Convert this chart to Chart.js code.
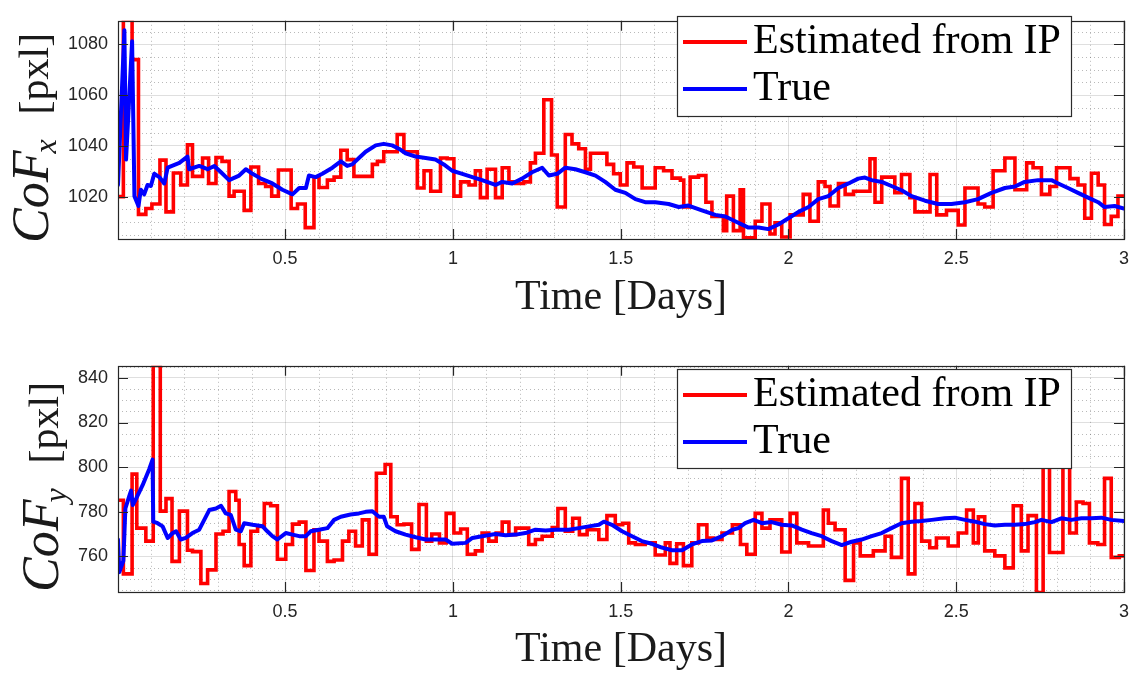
<!DOCTYPE html>
<html>
<head>
<meta charset="utf-8">
<title>CoF estimation</title>
<script src="https://cdn.jsdelivr.net/npm/chart.js@4.4.0/dist/chart.umd.min.js"></script>
<style>
  html, body { margin: 0; padding: 0; background: #ffffff; }
  #wrap { position: relative; width: 1138px; height: 677px; overflow: hidden; }
  .panel { position: absolute; left: 0; width: 1138px; }
  canvas { display: block; }
</style>
</head>
<body>
<div id="wrap">
  <div class="panel" style="top:0px;height:345px"><canvas id="cofx" width="1138" height="345"></canvas></div>
  <div class="panel" style="top:345px;height:332px"><canvas id="cofy" width="1138" height="332"></canvas></div>
</div>
<script>
// ---- axis ticks ----
const dayTicks = [0.5, 1, 1.5, 2, 2.5, 3];
const dayTickLabels = ['0.5', '1', '1.5', '2', '2.5', '3'];
const cofxTicks = [1020, 1040, 1060, 1080];
const cofyTicks = [760, 780, 800, 820, 840];
const seriesNames = ['Estimated from IP', 'True'];

// ---- CoF_x : image-processing estimate (held between updates) ----
const estXDays = [0.002,0.018,0.044,0.063,0.085,0.103,0.127,0.145,0.167,0.189,0.209,0.224,0.254,0.272,0.294,0.312,0.333,0.348,0.378,0.398,0.421,0.442,0.460,0.480,0.518,0.537,0.560,0.586,0.601,0.626,0.646,0.666,0.685,0.705,0.760,0.775,0.794,0.834,0.854,0.894,0.914,0.934,0.963,0.983,1.003,1.023,1.048,1.067,1.082,1.102,1.127,1.147,1.167,1.187,1.211,1.231,1.246,1.271,1.294,1.311,1.335,1.355,1.375,1.395,1.410,1.459,1.479,1.499,1.519,1.539,1.564,1.603,1.628,1.653,1.678,1.688,1.707,1.732,1.754,1.772,1.806,1.816,1.836,1.856,1.866,1.901,1.921,1.945,1.960,1.980,2.005,2.044,2.064,2.089,2.109,2.124,2.149,2.169,2.194,2.243,2.258,2.278,2.317,2.337,2.362,2.377,2.422,2.442,2.471,2.506,2.526,2.565,2.585,2.610,2.645,2.675,2.710,2.729,2.754,2.779,2.799,2.839,2.863,2.883,2.903,2.923,2.942,2.962,2.982,3.000];
const estXVals = [1020,1089.7,1074,1013,1015.3,1017.1,1034.4,1014,1029.3,1024.6,1040.4,1028,1035.2,1025.2,1035.4,1033.9,1020.2,1022.1,1014.6,1031.7,1025.2,1024,1020.2,1030.5,1015.3,1017.1,1007.8,1027.7,1023.6,1026.5,1027.7,1038.3,1034.6,1028,1032.7,1033.9,1037.7,1044.5,1037.7,1023.4,1030.2,1022.1,1035.2,1034.9,1020.2,1025.8,1024.6,1030.2,1019.6,1030.8,1019.6,1031.4,1025.8,1025.2,1025.8,1033.3,1037.1,1058.2,1036.4,1015.9,1044.5,1040.8,1038.9,1030.8,1037.1,1032.7,1029,1024.6,1033.3,1031.7,1023.4,1031.4,1030.2,1027.3,1026.5,1015.9,1027.7,1028.3,1017.8,1012.2,1006.6,1020.2,1006.6,1022.7,1003.8,1010.3,1017.1,1005.3,1009.7,1004.1,1012.8,1020.9,1010.3,1025.8,1024,1016.3,1025.2,1020.9,1022.1,1034.9,1017.8,1027.7,1021.5,1028.7,1019.6,1014,1028.7,1012.8,1014.6,1008.8,1023.4,1017.1,1015.9,1030.2,1035.2,1022.7,1033.3,1031.4,1020.9,1024,1031.4,1027.1,1024.6,1011.5,1029.2,1024.6,1009.0,1012.2,1020.2,1020.2];

// ---- CoF_x : ground truth ----
const trueXDays = [0.002,0.021,0.026,0.044,0.051,0.063,0.070,0.080,0.090,0.100,0.110,0.125,0.140,0.150,0.185,0.209,0.214,0.244,0.269,0.289,0.309,0.333,0.363,0.383,0.403,0.428,0.462,0.492,0.522,0.542,0.562,0.571,0.591,0.611,0.641,0.666,0.685,0.700,0.720,0.740,0.770,0.794,0.819,0.839,0.859,0.889,0.919,0.948,0.973,0.998,1.028,1.058,1.087,1.127,1.147,1.177,1.206,1.236,1.266,1.286,1.311,1.335,1.365,1.395,1.425,1.454,1.484,1.514,1.544,1.573,1.603,1.643,1.673,1.702,1.742,1.782,1.812,1.841,1.881,1.911,1.940,1.970,2.000,2.030,2.060,2.089,2.119,2.149,2.179,2.208,2.228,2.248,2.278,2.307,2.337,2.367,2.407,2.446,2.486,2.526,2.565,2.605,2.645,2.675,2.704,2.744,2.784,2.804,2.833,2.863,2.893,2.923,2.942,2.972,3.000];
const trueXVals = [1024.6,1085.6,1034.6,1081.2,1020.2,1016.3,1022.7,1020.9,1024.6,1024.2,1029.0,1027.7,1025.2,1031.4,1033.3,1035.8,1030.8,1032.1,1030.8,1032.1,1029.6,1026.5,1028.3,1030.8,1029.0,1027.1,1025.2,1022.7,1020.9,1023.4,1023.4,1028.3,1027.7,1029.0,1031.4,1033.9,1032.1,1032.7,1035.2,1037.7,1040.2,1040.8,1040.2,1038.9,1037.1,1035.8,1035.2,1034.6,1032.7,1030.2,1029.0,1027.7,1026.5,1024.6,1025.8,1025.2,1027.1,1029.6,1031.4,1028.3,1029.0,1031.4,1030.8,1029.6,1028.3,1025.8,1022.7,1021.5,1019.0,1017.8,1017.8,1017.1,1015.9,1016.5,1014.6,1012.8,1012.2,1010.3,1007.8,1007.8,1007.2,1009.0,1011.5,1014.0,1015.9,1019.0,1020.2,1023.4,1025.2,1027.1,1027.5,1026.5,1025.8,1024.2,1022.5,1020.2,1018.4,1017.1,1017.1,1017.8,1019.0,1021.5,1023.4,1024.0,1025.8,1026.5,1026.5,1025.2,1023.4,1021.5,1019.6,1017.8,1015.9,1016.3,1015.3];

// ---- CoF_y : image-processing estimate (held between updates) ----
const estYDays = [0.002,0.018,0.044,0.058,0.085,0.107,0.128,0.145,0.163,0.185,0.209,0.224,0.249,0.269,0.294,0.315,0.333,0.353,0.363,0.378,0.398,0.418,0.438,0.457,0.477,0.502,0.522,0.542,0.562,0.586,0.601,0.626,0.646,0.671,0.690,0.710,0.730,0.750,0.772,0.798,0.815,0.834,0.854,0.877,0.899,0.921,0.937,0.960,0.980,1.003,1.023,1.043,1.067,1.087,1.107,1.129,1.147,1.167,1.187,1.226,1.246,1.266,1.296,1.313,1.335,1.357,1.377,1.400,1.435,1.459,1.484,1.506,1.524,1.544,1.573,1.603,1.633,1.647,1.667,1.687,1.712,1.732,1.757,1.777,1.802,1.833,1.857,1.876,1.901,1.921,1.945,1.980,2.005,2.025,2.060,2.104,2.119,2.139,2.169,2.194,2.214,2.253,2.288,2.307,2.337,2.357,2.377,2.397,2.421,2.441,2.476,2.506,2.531,2.551,2.566,2.585,2.615,2.645,2.670,2.694,2.714,2.739,2.759,2.778,2.818,2.838,2.858,2.878,2.897,2.922,2.942,2.962,2.986,3.000];
const estYVals = [785.2,752.2,796.9,772.7,766.9,845.6,780.3,785.9,757.8,780.3,762.8,762.2,747.9,754.0,770.1,771.3,789.1,785.2,765.4,755.9,771.3,773.5,783.7,782.7,758.8,765.4,774.5,775.4,753.7,772.0,766.9,757.8,758.4,766.9,771.3,764.7,776.4,761.0,797.3,801.2,777.8,774.2,774.5,763.2,783.3,766.9,770.1,766.1,779.3,770.5,772.3,761.0,762.5,770.5,766.9,770.5,775.4,769.8,772.7,765.4,767.6,769.1,773.0,781.5,771.3,777.1,769.8,772.0,767.6,778.3,774.2,774.9,766.1,765.4,766.1,760.7,766.1,756.9,765.7,755.9,766.1,774.2,768.3,767.6,770.5,774.2,765.4,761.0,779.3,772.7,776.4,762.0,779.3,766.1,764.7,780.8,774.9,772.0,749.3,766.1,760.3,762.5,769.1,759.6,795.0,752.2,783.7,766.9,763.9,768.3,764.7,770.5,780.8,766.1,777.8,762.5,760.3,754.9,782.7,762.5,778.3,743.9,801.5,761.8,800.5,770.5,784.4,783.7,766.1,765.4,795.0,759.6,760.3,760.3];

// ---- CoF_y : ground truth ----
const trueYDays = [0.002,0.006,0.018,0.024,0.036,0.041,0.046,0.056,0.075,0.095,0.105,0.107,0.120,0.135,0.150,0.165,0.175,0.189,0.204,0.224,0.244,0.259,0.274,0.294,0.309,0.323,0.338,0.353,0.368,0.378,0.403,0.433,0.447,0.462,0.477,0.502,0.522,0.542,0.562,0.576,0.601,0.626,0.646,0.666,0.695,0.720,0.740,0.760,0.780,0.794,0.804,0.829,0.859,0.889,0.919,0.948,0.978,0.998,1.038,1.058,1.087,1.127,1.157,1.187,1.216,1.246,1.276,1.306,1.345,1.375,1.405,1.435,1.450,1.474,1.504,1.534,1.563,1.593,1.623,1.653,1.683,1.712,1.742,1.772,1.802,1.833,1.851,1.871,1.896,1.921,1.950,1.980,2.010,2.040,2.069,2.099,2.129,2.159,2.188,2.218,2.248,2.278,2.307,2.337,2.367,2.397,2.427,2.466,2.496,2.526,2.556,2.585,2.615,2.645,2.675,2.704,2.734,2.754,2.784,2.813,2.843,2.873,2.903,2.932,2.962,3.000];
const trueYVals = [767.6,753.0,758.1,781.5,787.3,789.5,783.0,785.9,791.8,799.1,803.4,775.6,774.9,773.5,768.3,770.5,771.3,767.6,768.3,770.5,772.0,776.4,780.8,781.5,782.7,779.3,778.6,772.0,771.3,774.9,774.2,773.5,771.3,769.1,767.6,770.5,769.8,769.1,769.1,771.3,772.0,772.7,776.4,777.8,778.8,779.3,780.0,780.3,777.8,777.8,773.5,771.3,769.8,768.6,767.6,767.6,767.6,765.7,766.1,768.3,769.1,770.1,769.5,769.8,770.5,772.0,771.6,772.0,772.0,772.7,773.5,774.2,775.6,774.2,771.3,769.1,766.9,765.7,764.0,762.8,762.8,765.4,766.9,767.2,769.1,772.0,772.7,774.9,776.4,774.9,775.4,774.2,773.9,772.0,770.5,769.1,766.9,765.1,766.6,767.6,769.1,770.5,772.7,774.9,775.6,775.9,776.4,777.1,777.4,776.4,775.6,774.5,773.9,774.2,774.2,774.5,775.4,776.4,775.4,777.1,776.4,777.1,777.1,777.4,776.4,775.9];

const toPoints = (xs, ys) => xs.map((x, i) => ({ x: x, y: ys[i] }));

const AXIS_COLOR = '#262626';
const TICK_FONT = { family: '"Liberation Sans", Arial, Helvetica, sans-serif', size: 18 };
const SERIF = '"Liberation Serif", "Times New Roman", serif';

// Minor dotted grid, drawn underneath the series
const minorGrid = {
  id: 'minorGrid',
  beforeDatasetsDraw(chart, args, opts) {
    const { ctx, chartArea: a } = chart;
    const xs = chart.scales.x, ys = chart.scales.y;
    ctx.save();
    ctx.strokeStyle = 'rgba(38,38,38,0.32)';
    ctx.lineWidth = 1;
    ctx.setLineDash([1, 3]);
    ctx.beginPath();
    for (let k = 1; k < 30; k++) {
      if (k % 5 === 0) continue;
      const px = Math.round(xs.getPixelForValue(k / 10)) + 0.5;
      ctx.moveTo(px, a.top); ctx.lineTo(px, a.bottom);
    }
    const step = opts.yMinorStep;
    for (let v = Math.ceil(ys.min / step) * step; v <= ys.max; v += step) {
      if (v % opts.yMajorStep === 0) continue;
      const py = Math.round(ys.getPixelForValue(v)) + 0.5;
      ctx.moveTo(a.left, py); ctx.lineTo(a.right, py);
    }
    ctx.stroke();
    ctx.restore();
  }
};

// Boxed axes with inward tick marks on all four sides
const boxAxes = {
  id: 'boxAxes',
  afterDatasetsDraw(chart) {
    const { ctx, chartArea: a } = chart;
    const xs = chart.scales.x, ys = chart.scales.y;
    const len = 10;
    ctx.save();
    ctx.strokeStyle = AXIS_COLOR;
    ctx.lineWidth = 1.2;
    ctx.beginPath();
    xs.ticks.forEach(t => {
      const px = Math.round(xs.getPixelForValue(t.value)) + 0.5;
      ctx.moveTo(px, a.bottom); ctx.lineTo(px, a.bottom - len);
      ctx.moveTo(px, a.top); ctx.lineTo(px, a.top + len);
    });
    ys.ticks.forEach(t => {
      const py = Math.round(ys.getPixelForValue(t.value)) + 0.5;
      ctx.moveTo(a.left, py); ctx.lineTo(a.left + len, py);
      ctx.moveTo(a.right, py); ctx.lineTo(a.right - len, py);
    });
    ctx.stroke();
    ctx.strokeRect(Math.round(a.left) + 0.5, Math.round(a.top) + 0.5,
                   Math.round(a.right - a.left), Math.round(a.bottom - a.top));
    ctx.restore();
  }
};

// Y axis label with a math-style subscript: CoF_x [pxl]
const yLabel = {
  id: 'yLabel',
  afterDraw(chart, args, opts) {
    const { ctx, chartArea: a } = chart;
    const mainFont = 'italic 52px ' + SERIF;
    const subFont = 'italic 32px ' + SERIF;
    const unitFont = '42px ' + SERIF;
    ctx.save();
    ctx.fillStyle = '#1a1a1a';
    ctx.textBaseline = 'alphabetic';
    ctx.textAlign = 'left';
    ctx.font = mainFont; const w1 = ctx.measureText('CoF').width;
    ctx.font = subFont; const w2 = ctx.measureText(opts.sub).width;
    ctx.font = unitFont; const w3 = ctx.measureText('[pxl]').width;
    const gap = 22;
    const total = w1 + w2 + gap + w3;
    ctx.translate(opts.baseX, (a.top + a.bottom) / 2 + opts.shift);
    ctx.rotate(-Math.PI / 2);
    let x = -total / 2;
    ctx.font = mainFont; ctx.fillText('CoF', x, 0); x += w1;
    ctx.font = subFont; ctx.fillText(opts.sub, x - 3, 8); x += w2;
    x += gap;
    ctx.font = unitFont; ctx.fillText('[pxl]', x, 0);
    ctx.restore();
  }
};

// Boxed legend in the upper right of the plot area
const boxLegend = {
  id: 'boxLegend',
  afterDraw(chart, args, opts) {
    const { ctx } = chart;
    const { x, y, w, h } = opts;
    ctx.save();
    ctx.fillStyle = '#ffffff';
    ctx.fillRect(x, y, w, h);
    ctx.strokeStyle = '#2b2b2b';
    ctx.lineWidth = 1.2;
    ctx.strokeRect(x + 0.5, y + 0.5, w, h);
    const rows = [{ line: 26, base: 37 }, { line: 73, base: 84 }];
    chart.data.datasets.forEach((ds, i) => {
      const r = rows[i];
      ctx.strokeStyle = ds.borderColor;
      ctx.lineWidth = 4;
      ctx.beginPath();
      ctx.moveTo(x + 6, y + r.line);
      ctx.lineTo(x + 70, y + r.line);
      ctx.stroke();
      ctx.fillStyle = '#000000';
      ctx.font = '42px ' + SERIF;
      ctx.textBaseline = 'alphabetic';
      ctx.fillText(ds.label, x + 76, y + r.base);
    });
    ctx.restore();
  }
};

function makePanel(canvasId, cfg) {
  return new Chart(document.getElementById(canvasId), {
    type: 'line',
    data: {
      datasets: [
        {
          label: seriesNames[0],
          data: toPoints(cfg.estDays, cfg.estVals),
          borderColor: '#ff0000',
          borderWidth: 3.6,
          stepped: true,
          pointRadius: 0,
          fill: false,
          order: 1,
          clip: 0
        },
        {
          label: seriesNames[1],
          data: toPoints(cfg.trueDays, cfg.trueVals),
          borderColor: '#0000ff',
          borderWidth: 4,
          borderJoinStyle: 'round',
          borderCapStyle: 'round',
          pointRadius: 0,
          tension: 0,
          fill: false,
          order: 0,
          clip: 0
        }
      ]
    },
    options: {
      responsive: false,
      animation: false,
      events: [],
      layout: { padding: { top: cfg.padTop, right: 10, bottom: 0, left: 0 } },
      scales: {
        x: {
          type: 'linear',
          min: 0.002,
          max: 3,
          afterBuildTicks: s => { s.ticks = dayTicks.map(v => ({ value: v })); },
          afterFit: s => { s.height = cfg.xAxisHeight; },
          ticks: {
            autoSkip: false,
            maxRotation: 0,
            padding: 9,
            color: AXIS_COLOR,
            font: TICK_FONT,
            callback: v => dayTickLabels[dayTicks.indexOf(v)]
          },
          grid: { color: 'rgba(38,38,38,0.15)', lineWidth: 1, drawTicks: false },
          border: { display: false },
          title: {
            display: true,
            text: 'Time [Days]',
            color: '#1a1a1a',
            font: { family: SERIF, size: 42, lineHeight: 1.2 },
            padding: { top: 0, bottom: cfg.titlePad }
          }
        },
        y: {
          type: 'linear',
          min: cfg.yMin,
          max: cfg.yMax,
          afterBuildTicks: s => { s.ticks = cfg.yTicks.map(v => ({ value: v })); },
          afterFit: s => { s.width = 118; },
          ticks: {
            padding: 10,
            color: AXIS_COLOR,
            font: TICK_FONT,
            callback: v => String(v)
          },
          grid: { color: 'rgba(38,38,38,0.15)', lineWidth: 1, drawTicks: false },
          border: { display: false }
        }
      },
      plugins: {
        legend: { display: false },
        tooltip: { enabled: false },
        minorGrid: { yMinorStep: 5, yMajorStep: 20 },
        yLabel: { sub: cfg.sub, baseX: cfg.labelX, shift: 8 },
        boxLegend: cfg.legendBox
      }
    },
    plugins: [minorGrid, boxAxes, yLabel, boxLegend]
  });
}

makePanel('cofx', {
  estDays: estXDays, estVals: estXVals,
  trueDays: trueXDays, trueVals: trueXVals,
  yMin: 1003.3, yMax: 1089.3, yTicks: cofxTicks,
  padTop: 8, xAxisHeight: 106, titlePad: 22,
  sub: 'x', labelX: 48,
  legendBox: { x: 677, y: 16, w: 394, h: 100 }
});

makePanel('cofy', {
  estDays: estYDays, estVals: estYVals,
  trueDays: trueYDays, trueVals: trueYVals,
  yMin: 744.1, yMax: 845.4, yTicks: cofyTicks,
  padTop: 16, xAxisHeight: 85, titlePad: 2,
  sub: 'y', labelX: 58,
  legendBox: { x: 677, y: 24, w: 394, h: 99 }
});
</script>
</body>
</html>
